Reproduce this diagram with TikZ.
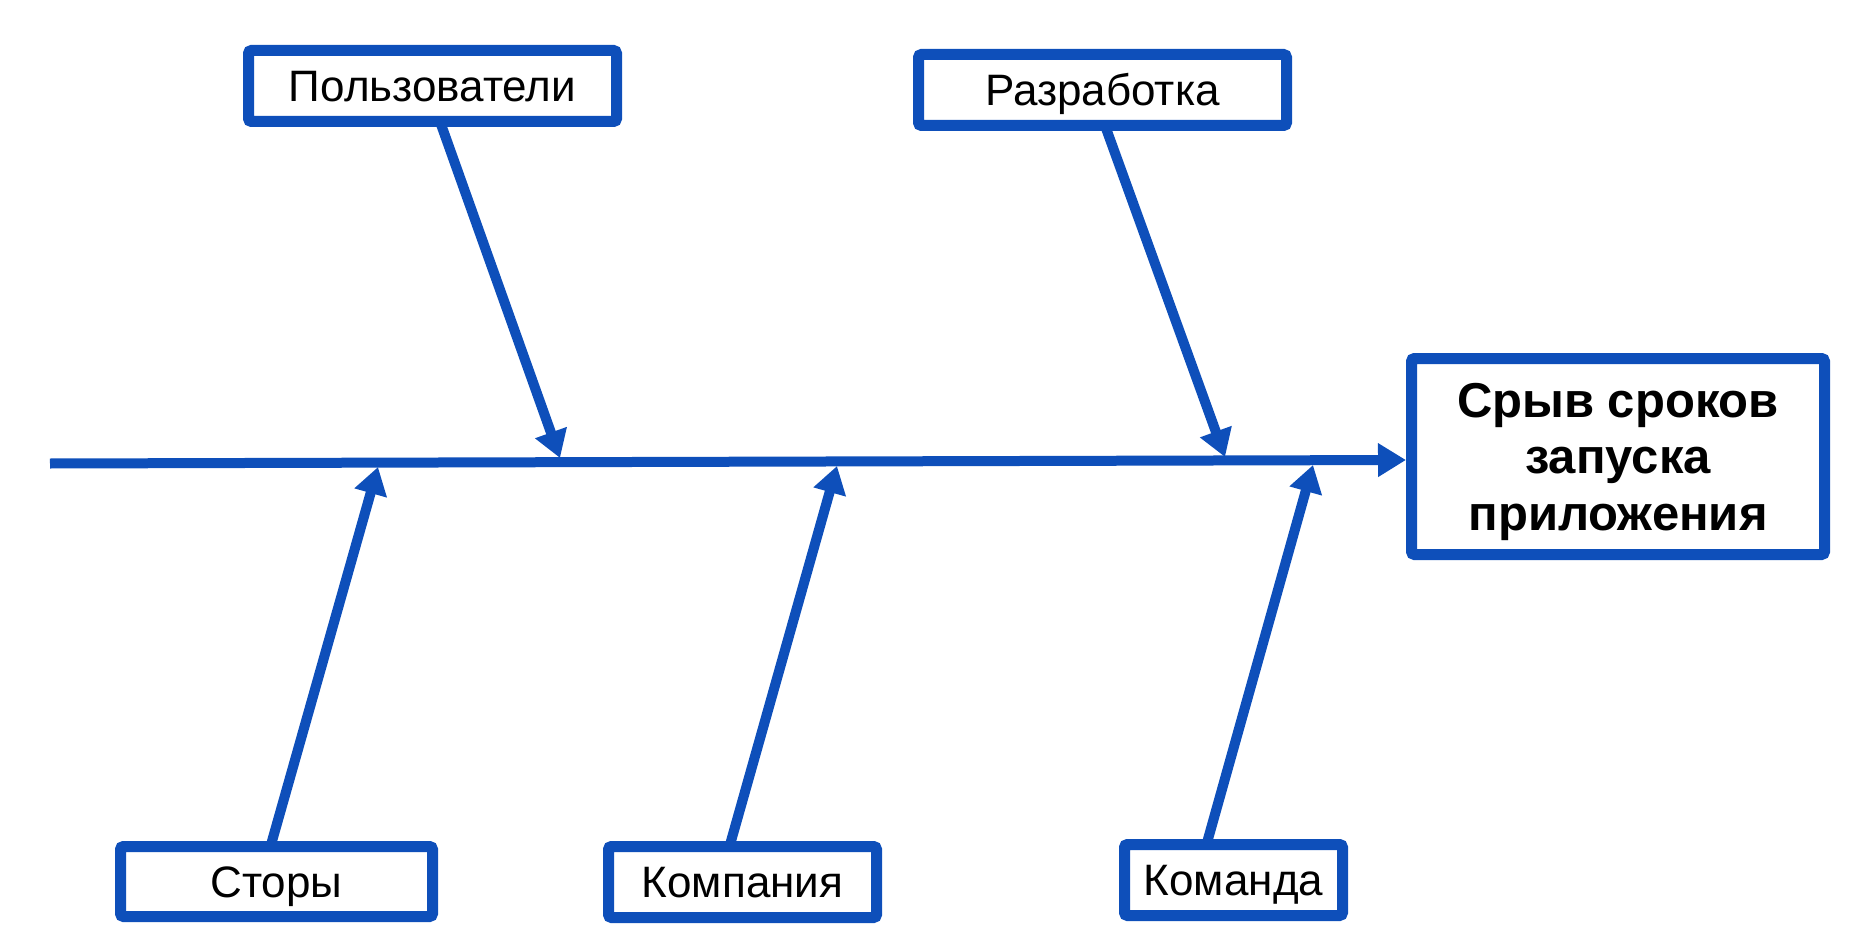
\documentclass[tikz,border=0pt]{standalone}
\usepackage{fontspec}
\setmainfont{Liberation Sans}
\usetikzlibrary{arrows.meta}
\definecolor{fbblue}{RGB}{14,79,186}
\tikzset{
  catbox/.style={draw=fbblue, line width=11pt, fill=white, rounded corners=3pt,
    inner sep=0pt, outer sep=0pt, text height=31.5pt, text depth=0pt,
    font=\fontsize{44}{50}\selectfont, text=black},
  mainbox/.style={draw=fbblue, line width=11pt, fill=white, rounded corners=3pt,
    inner sep=0pt, outer sep=0pt, align=center,
    font=\fontsize{49}{56.5}\selectfont\bfseries, text=black},
  rib/.style={draw=fbblue, line width=10pt, -{Triangle[length=27pt,width=32pt]}},
  spine/.style={draw=fbblue, line width=10pt, -{Triangle[length=28pt,width=32pt]}}
}
\begin{document}
\begin{tikzpicture}[x=1pt,y=-1pt]
\useasboundingbox (0,0) rectangle (1874,952);
% spine
\coordinate (ss) at (50,463.5);
\coordinate (se) at (1406,460);
% rib tips on spine
\coordinate (tp) at (560,458);
\coordinate (tr) at (1225,457);
\coordinate (ts) at (378,467);
\coordinate (tk) at (837,466);
\coordinate (tm) at (1313,465);
% boxes
\node[catbox, minimum width=368pt, minimum height=71pt] (p) at (432.5,86) {Пользователи};
\node[catbox, minimum width=368pt, minimum height=71pt] (r) at (1102.5,90) {Разработка};
\node[catbox, minimum width=312pt, minimum height=70pt] (s) at (276.5,881.5) {Сторы};
\node[catbox, minimum width=268pt, minimum height=71pt] (k) at (742.5,882) {Компания};
\node[catbox, minimum width=218pt, minimum height=71pt] (m) at (1233.5,880) {Команда};
\node[mainbox, minimum width=413pt, minimum height=196pt] (main) at (1618,456.5) {Срыв сроков\\запуска\\\raisebox{0pt}[\height][0pt]{приложения}};
% connectors
\draw[spine] (ss) -- (se);
\draw[rib] ([xshift=7.5pt]p.south) -- (tp);
\draw[rib] ([xshift=2.5pt]r.south) -- (tr);
\draw[rib] ([xshift=-6pt]s.north) -- (ts);
\draw[rib] ([xshift=-13pt]k.north) -- (tk);
\draw[rib] ([xshift=-27pt]m.north) -- (tm);
\end{tikzpicture}
\end{document}
